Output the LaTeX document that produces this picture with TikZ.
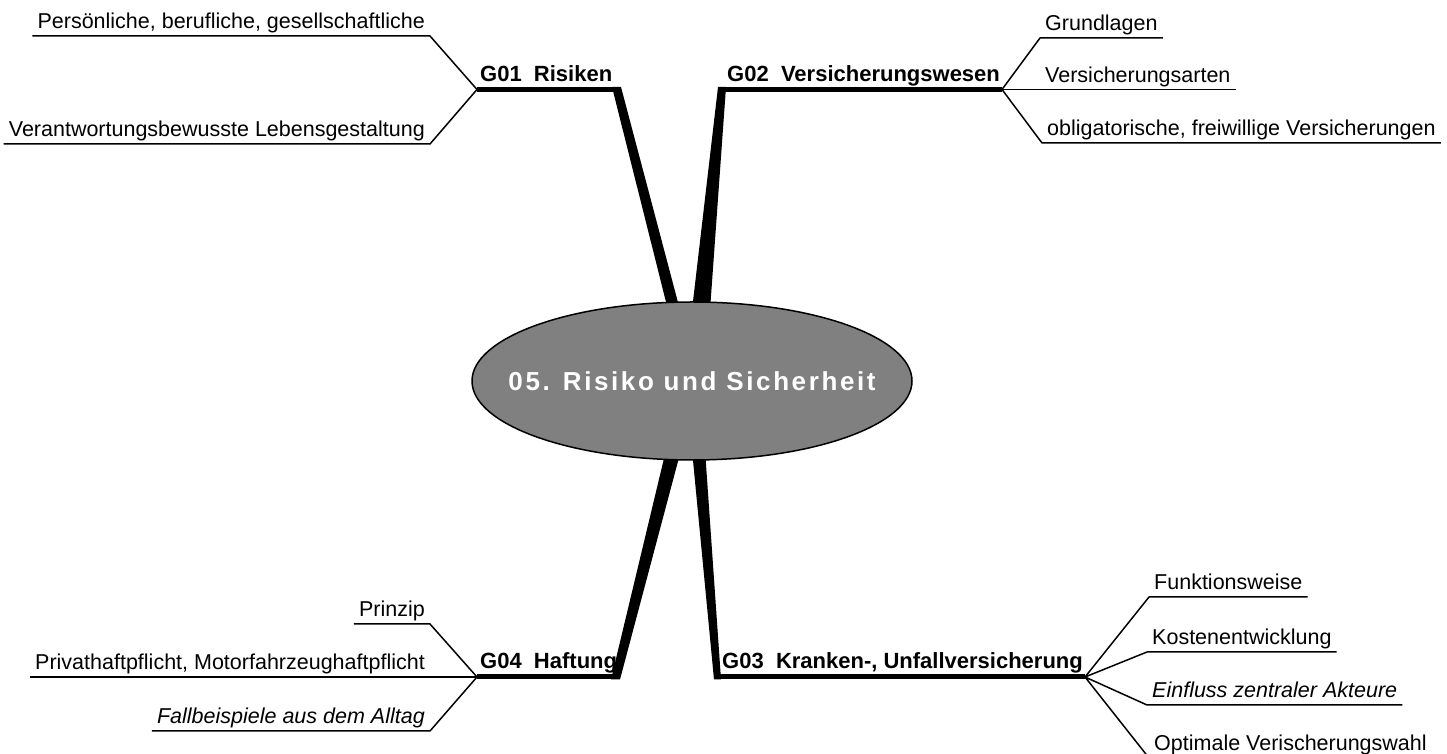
\documentclass[tikz,border=0pt]{standalone}
\usepackage{fontspec}
\setmainfont{Liberation Sans}
\newfontfamily\rootfamily[LetterSpace=10]{Liberation Sans}
\usepackage{xcolor}
\usetikzlibrary{shapes.geometric,calc}

\newcommand{\subfont}{\fontsize{21.5}{26}\selectfont}
\newcommand{\topicfont}{\fontsize{22}{26}\selectfont\bfseries}
\newcommand{\rootfont}{\rootfamily\fontsize{26}{31}\selectfont\bfseries}

\tikzset{
  root/.style={ellipse, draw=black, line width=1.5pt, fill=hubColor, text=white,
    font=\rootfont, minimum width=440pt, minimum height=158pt, inner sep=0pt},
  topic/.style={font=\topicfont, anchor=base west, inner sep=0pt},
  sub/.style={font=\subfont, inner xsep=5pt, inner ysep=0pt, text height=16pt, text depth=7pt},
  limb/.style={draw=black, line width=5pt},
  twig/.style={draw=black, line width=1.5pt, line join=round},
}

\begin{document}
\begin{tikzpicture}[x=1pt,y=1pt]
\definecolor{fillColor}{RGB}{255,255,255}
\definecolor{hubColor}{RGB}{128,128,128}
\path[use as bounding box,fill=fillColor] (0,0) rectangle (1447,754);

\coordinate (hub) at (692,373);
\coordinate (j1) at (477,664.5);
\coordinate (c1) at (617,664.5);
\coordinate (c2) at (722,664.5);
\coordinate (j2) at (1002,664.5);
\coordinate (c3) at (717,77);
\coordinate (j3) at (1085,77);
\coordinate (j4) at (477,77);
\coordinate (c4) at (617,77);

% thick branches to the centre
\fill ($(c1)+(-5,2.5)$) -- ($(c1)+(4,2.5)$) -- ($(hub)+(-12,71)$) -- ($(hub)+(-24,71)$) -- cycle;
\fill ($(c2)+(-4,2.5)$) -- ($(c2)+(4,2.5)$) -- ($(hub)+(18,71)$) -- ($(hub)+(0,71)$) -- cycle;
\fill ($(c3)+(-3,-2.5)$) -- ($(c3)+(4,-2.5)$) -- ($(hub)+(13,-69)$) -- ($(hub)+(0,-69)$) -- cycle;
\fill ($(c4)+(-6,-2.5)$) -- ($(c4)+(3,-2.5)$) -- ($(hub)+(-11,-69)$) -- ($(hub)+(-26,-69)$) -- cycle;

\node[root] (root) at (hub) {\makebox[0pt]{05. Risiko und Sicherheit}};

% G01
\node[topic] (g01) at (480,672.5) {G01\ \ Risiken};
\node[sub, anchor=south east] (s11) at (430,718) {Persönliche, berufliche, gesellschaftliche};
\node[sub, anchor=south east] (s12) at (430,610) {Verantwortungsbewusste Lebensgestaltung};
\draw[twig] (s11.south west) -- (s11.south east) -- (j1) -- (s12.south east) -- (s12.south west);
\draw[limb] (j1) -- (c1);

% G02
\node[topic] (g02) at (727,672.5) {G02\ \ Versicherungswesen};
\node[sub, anchor=south west] (s21) at (1040,716) {Grundlagen};
\node[sub, anchor=south west] (s22) at (1040,664.5) {Versicherungsarten};
\node[sub, anchor=south west] (s23) at (1042,611) {obligatorische, freiwillige Versicherungen};
\draw[twig] (s21.south east) -- (s21.south west) -- (j2) -- (s23.south west) -- (s23.south east);
\draw[twig] (j2) -- (s22.south west) -- (s22.south east);
\draw[limb] (c2) -- (j2);

% G03
\node[topic] (g03) at (722,85) {G03\ \ Kranken-, Unfallversicherung};
\node[sub, anchor=south west] (s31) at (1149,157) {Funktionsweise};
\node[sub, anchor=south west] (s32) at (1147,102) {Kostenentwicklung};
\node[sub, anchor=south west] (s33) at (1147,49) {\itshape Einfluss zentraler Akteure};
\node[sub, anchor=south west] (s34) at (1149,-4) {Optimale Verischerungswahl};
\draw[twig] (s31.south east) -- (s31.south west) -- (j3) -- (s32.south west) -- (s32.south east);
\draw[twig] (s33.south east) -- (s33.south west) -- (j3) -- (s34.south west) -- (s34.south east);
\draw[limb] (c3) -- (j3);

% G04
\node[topic] (g04) at (480,85) {G04\ \ Haftung};
\node[sub, anchor=south east] (s41) at (430,130) {Prinzip};
\node[sub, anchor=south east] (s42) at (430,77) {Privathaftpflicht, Motorfahrzeughaftpflicht};
\node[sub, anchor=south east] (s43) at (430,23) {\itshape Fallbeispiele aus dem Alltag};
\draw[twig] (s41.south west) -- (s41.south east) -- (j4) -- (s43.south east) -- (s43.south west);
\draw[twig] (s42.south west) -- (s42.south east) -- (j4);
\draw[limb] (j4) -- (c4);
\end{tikzpicture}
\end{document}
